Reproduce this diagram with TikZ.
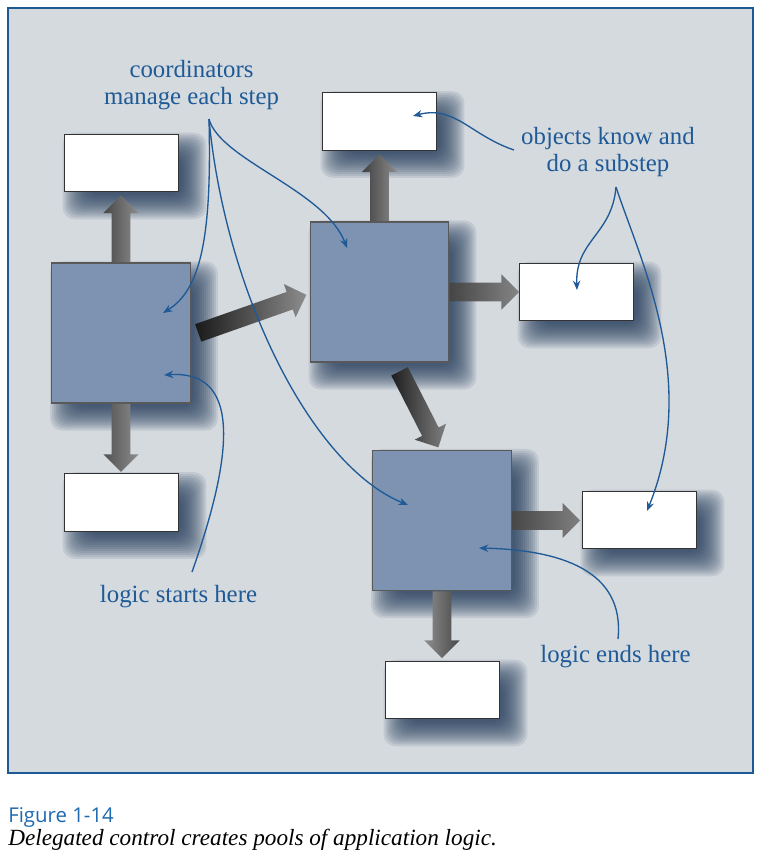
\documentclass[tikz,border=0pt]{standalone}
\usepackage{fontspec}
\setmainfont{Liberation Serif}
\newfontfamily\capfont{Open Sans}
\usetikzlibrary{shapes.arrows,arrows.meta,backgrounds}
\definecolor{framefill}{HTML}{D5DADF}
\definecolor{frameline}{HTML}{1D5A94}
\definecolor{boxblue}{HTML}{7D93B1}
\definecolor{notecol}{HTML}{1F5A96}
\definecolor{shadowcol}{HTML}{22395A}
\definecolor{capblue}{HTML}{1F6AAE}

\begin{document}
\begin{tikzpicture}[x=0.75pt,y=-0.75pt,
  bigbox/.style={draw=black!65,line width=0.9pt,fill=boxblue,minimum width=104pt,minimum height=105pt},
  objbox/.style={draw=black!80,line width=0.9pt,fill=white,minimum width=86pt,minimum height=43pt},
  fat/.style={single arrow,draw=none,inner xsep=0pt,inner ysep=6.75pt,minimum width=26pt,
    single arrow head extend=6.25pt,single arrow tip angle=90,anchor=tail},
  note/.style={font=\fontsize{18.6}{20.25}\selectfont,text=notecol,align=center,inner sep=0pt},
  link/.style={draw=notecol,line width=1pt,-{Stealth[length=7pt,width=5.5pt]}},
  blur/.style={fill=shadowcol,opacity=0.11,rounded corners=9pt}]
\useasboundingbox (0,0) rectangle (764,858);
\node (A) at (121,333) [bigbox] {};
\node (B) at (379.5,292) [bigbox] {};
\node (C) at (442,520.5) [bigbox] {};
\node (W1) at (121.5,163) [objbox] {};
\node (W2) at (379.5,121.5) [objbox] {};
\node (W3) at (576.5,292) [objbox] {};
\node (W4) at (121.5,502.5) [objbox] {};
\node (W5) at (639.5,520) [objbox] {};
\node (W6) at (442.5,690) [objbox] {};
\begin{scope}[on background layer]
\fill[framefill] (8,8) rectangle (753,773);
\foreach \n in {A,B,C,W1,W2,W3,W4,W5,W6}
  \foreach \e in {14,12,...,-10}
    \fill[blur] ([shift={({13-(\e)},{13-(\e)})}]\n.north west) rectangle ([shift={({13+(\e)},{13+(\e)})}]\n.south east);
\end{scope}
\draw[frameline,line width=1.5pt] (8,8) rectangle (753,773);
\node (a1) at (A.north) [fat,rotate=90,minimum height=50pt,left color=black!72,right color=black!45] {};
\node (a2) at (A.south) [fat,rotate=-90,minimum height=51pt,left color=black!68,right color=black!45] {};
\node (a3) at ([shift={(7,0)}]A.east) [fat,rotate=19.4,minimum height=86pt,left color=black!90,right color=black!45] {};
\node (b1) at (B.north) [fat,rotate=90,minimum height=50pt,left color=black!75,right color=black!45] {};
\node (b2) at (B.east) [fat,rotate=0,minimum height=52pt,left color=black!73,right color=black!48] {};
\node (b3) at ([shift={(20,8.5)}]B.south) [fat,rotate=-63,minimum height=64pt,left color=black!88,right color=black!50] {};
\node (c1) at (C.east) [fat,rotate=0,minimum height=51pt,left color=black!72,right color=black!50] {};
\node (c2) at (C.south) [fat,rotate=-90,minimum height=50pt,left color=black!44,right color=black!72] {};
\node (mgr) at (191.5,85) [note] {coordinators\\manage each step};
\node (obj) at (608,152) [note] {objects know and\\do a substep};
\node (start) at (178.5,597) [note] {logic starts here};
\node (end) at (615.5,657) [note] {logic ends here};
\coordinate (m0) at (209,119);
\coordinate (o1) at (514,150);
\coordinate (o2) at (616,187);
\coordinate (s0) at (192,572);
\coordinate (e0) at (618,639);
\draw[link] (m0) .. controls (212,240) and (200,290) .. ([shift={(42,-20)}]A.center);
\draw[link] (m0) .. controls (220,160) and (325,190) .. ([shift={(-32.5,-44)}]B.center);
\draw[link] (m0) .. controls (225,290) and (310,465) .. ([shift={(-34,-15.5)}]C.center);
\draw[link] (o1) .. controls (470,135) and (455,105) .. ([shift={(33.5,-5.5)}]W2.center);
\draw[link] (o2) .. controls (612,235) and (575,240) .. ([shift={(0.5,-2)}]W3.center);
\draw[link] (o2) .. controls (640,260) and (700,380) .. ([shift={(7.5,-9)}]W5.center);
\draw[link] (s0) .. controls (235,450) and (240,370) .. ([shift={(43,42)}]A.center);
\draw[link] (e0) .. controls (625,570) and (560,550) .. ([shift={(37,27.5)}]C.center);
\node (fig) at (8,822) [anchor=base west,inner sep=0pt,font=\capfont\fontsize{15.3}{18}\selectfont,text=capblue] {Figure 1-14};
\node (cap) at (8,845) [anchor=base west,inner sep=0pt,font=\itshape\fontsize{17.4}{20}\selectfont] {Delegated control creates pools of application logic.};
\end{tikzpicture}
\end{document}
